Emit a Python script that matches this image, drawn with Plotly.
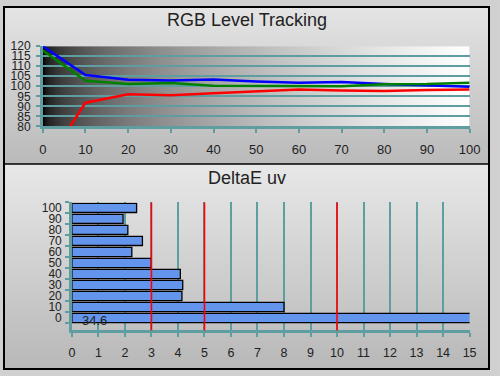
import zlib, struct, base64
import plotly.graph_objects as go

# ---------------- data ----------------
levels = [0, 10, 20, 30, 40, 50, 60, 70, 80, 90, 100]
red_vals = [59, 91.8, 96.0, 95.5, 96.5, 97.3, 98.4, 97.9, 97.6, 98.2, 98.4]
green_vals = [117.8, 102.8, 101.1, 101.6, 100.3, 100.3, 100.0, 100.0, 101.0, 101.1, 101.8]
blue_vals = [120.0, 105.6, 103.2, 102.9, 103.4, 102.4, 101.8, 102.1, 101.1, 100.5, 99.8]

de_categories = ["0", "10", "20", "30", "40", "50", "60", "70", "80", "90", "100"]
de_values = [34.6, 8.0, 4.15, 4.18, 4.09, 2.99, 2.26, 2.66, 2.11, 1.93, 2.44]
threshold_lines = [3, 5, 10]

W, H = 500, 376
TEAL = "#5f9ea0"
FONT = "Liberation Sans, Arial, sans-serif"
TXT = "#222222"


def png_uri(rows, w, h):
    raw = b"".join(b"\x00" + r for r in rows)

    def chunk(t, d):
        return struct.pack(">I", len(d)) + t + d + struct.pack(">I", zlib.crc32(t + d) & 0xFFFFFFFF)

    png = (b"\x89PNG\r\n\x1a\n"
           + chunk(b"IHDR", struct.pack(">IIBBBBB", w, h, 8, 2, 0, 0, 0))
           + chunk(b"IDAT", zlib.compress(raw))
           + chunk(b"IEND", b""))
    return "data:image/png;base64," + base64.b64encode(png).decode()


# panel background (vertical gradient, two panels)
DIV = 163
bg_rows = []
for yy in range(H):
    if yy < DIV:
        t = yy / (DIV - 1)
        v = int(round(0xE4 + (0xBA - 0xE4) * t))
    else:
        t = (yy - DIV) / (H - DIV - 1)
        v = int(round(0xE8 + (0xB8 - 0xE8) * t))
    bg_rows.append(bytes([v, v, v]))
bg_uri = png_uri(bg_rows, 1, H)

# top plot-area horizontal gradient black -> white
GW = 256
row = bytearray()
for i in range(GW):
    v = int(round(255 * (i / (GW - 1)) ** (1 / 2.2)))
    row += bytes([v, v, v])
grad_uri = png_uri([bytes(row)], GW, 1)


def fy(px):
    return 1 - px / H


fig = go.Figure()

fig.add_trace(go.Scatter(x=levels, y=red_vals, mode="lines", line=dict(color="#ff0000", width=2.5),
                         xaxis="x", yaxis="y", showlegend=False))
fig.add_trace(go.Scatter(x=levels, y=blue_vals, mode="lines", line=dict(color="#0000ff", width=2.5),
                         xaxis="x", yaxis="y", showlegend=False))
fig.add_trace(go.Scatter(x=levels, y=green_vals, mode="lines", line=dict(color="#008000", width=2.5),
                         xaxis="x", yaxis="y", showlegend=False))

fig.add_trace(go.Bar(x=de_values, y=de_categories, orientation="h",
                     marker=dict(color="#6495ED", line=dict(color="#000000", width=1.3)),
                     xaxis="x2", yaxis="y2", showlegend=False))

shapes = []
for v in threshold_lines:
    shapes.append(dict(type="line", xref="x2", yref="y2 domain", x0=v, x1=v, y0=0, y1=1,
                       line=dict(color="#ff0000", width=1.6), layer="above"))
# divider and border
shapes.append(dict(type="line", xref="paper", yref="paper", x0=0, x1=1, y0=fy(DIV), y1=fy(DIV),
                   line=dict(color="#000000", width=1.5)))
shapes.append(dict(type="rect", xref="paper", yref="paper", x0=0, x1=1, y0=0, y1=1,
                   line=dict(color="#000000", width=2)))

axis_common = dict(showline=True, linecolor=TEAL, linewidth=2.5, ticks="outside", ticklen=4,
                   tickwidth=2, tickcolor=TEAL, zeroline=False)

fig.update_layout(
    width=W, height=H,
    margin=dict(l=0, r=0, t=0, b=0),
    paper_bgcolor="#d0d0d0",
    plot_bgcolor="#ffffff",
    bargap=0.17,
    xaxis=dict(domain=[40 / W, 480 / W], range=[0, 100], dtick=10, tick0=0, showgrid=False,
               anchor="y", ticklabelstandoff=5, tickfont=dict(family=FONT, size=13, color=TXT),
               **axis_common),
    yaxis=dict(domain=[fy(124), fy(40.7)], range=[80, 120], dtick=5, tick0=80, showgrid=True,
               gridcolor=TEAL, gridwidth=1.5, anchor="x", ticklabelstandoff=3,
               tickfont=dict(family=FONT, size=12, color=TXT), **axis_common),
    xaxis2=dict(domain=[70 / W, 480 / W], range=[0, 15], dtick=1, tick0=0, showgrid=True,
                gridcolor=TEAL, gridwidth=1.5, anchor="y2", ticklabelstandoff=5,
                tickfont=dict(family=FONT, size=12.5, color=TXT), **axis_common),
    yaxis2=dict(domain=[fy(336), fy(203)], type="category", categoryorder="array",
                categoryarray=de_categories, tickmode="array", tickvals=de_categories,
                ticktext=de_categories, tickson="boundaries", showgrid=False,
                anchor="x2", ticklabelstandoff=5,
                tickfont=dict(family=FONT, size=12, color=TXT), **axis_common),
    shapes=shapes,
    images=[
        dict(source=bg_uri, xref="paper", yref="paper", x=0, y=1, sizex=1, sizey=1,
             xanchor="left", yanchor="top", sizing="stretch", layer="below"),
        dict(source=grad_uri, xref="x", yref="y", x=0, y=120, sizex=100, sizey=40,
             xanchor="left", yanchor="top", sizing="stretch", layer="below"),
    ],
    annotations=[
        dict(text="RGB Level Tracking", xref="paper", yref="paper", x=0.5, y=fy(14), showarrow=False,
             font=dict(family=FONT, size=18, color=TXT), xanchor="center", yanchor="middle"),
        dict(text="DeltaE uv", xref="paper", yref="paper", x=0.5, y=fy(178), showarrow=False,
             font=dict(family=FONT, size=18, color=TXT), xanchor="center", yanchor="middle"),
        dict(text=f"{de_values[0]:.1f}", xref="x2", yref="y2", x=0.84, y=de_categories[0],
             showarrow=False, yshift=-3, font=dict(family=FONT, size=13, color=TXT)),
    ],
)

css_js = (
    "var s='margin:0;padding:0;overflow:hidden;';"
    "document.documentElement.style.cssText=s;document.body.style.cssText=s;"
)
fig.write_html("out.html", config={"displayModeBar": False}, post_script=css_js)
